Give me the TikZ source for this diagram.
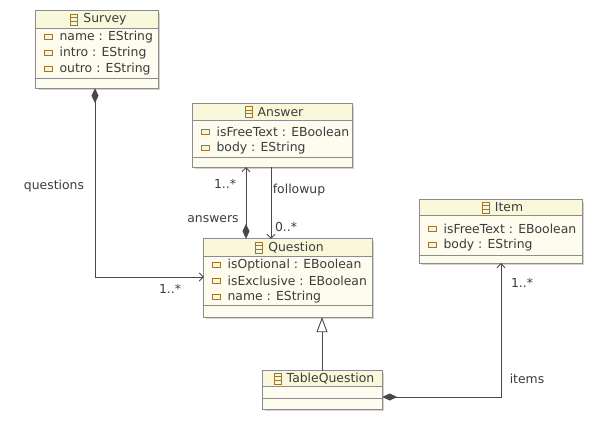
\documentclass[tikz,border=0pt]{standalone}
\usepackage{fontspec}
\setmainfont{DejaVu Sans}
\usetikzlibrary{positioning,fit,arrows.meta}

\definecolor{boxborder}{HTML}{8C8C8C}
\definecolor{headfill}{HTML}{FAF8DA}
\definecolor{bodyfill}{HTML}{FDFCEF}
\definecolor{iconbrown}{HTML}{9A7630}
\definecolor{iconfill}{HTML}{FBF3D6}
\definecolor{linegray}{HTML}{484848}
\definecolor{textgray}{HTML}{3C3C3C}
\definecolor{shadowgray}{HTML}{D2D2D2}

\tikzset{
  classbox/.style={fill=bodyfill, inner sep=0pt},
  titletext/.style={inner sep=0pt, text=textgray, font=\fontsize{12.4}{14}\selectfont},
  attrtext/.style={inner sep=0pt, anchor=west, text=textgray, font=\fontsize{12.4}{14}\selectfont},
  labeltext/.style={inner sep=0pt, text=textgray, font=\fontsize{12.4}{14}\selectfont},
  clsicon/.style={draw=iconbrown, minimum width=7, minimum height=11, inner sep=0pt, line width=0.8pt,
    path picture={
      \draw[iconbrown, line width=0.8pt] ([yshift=1.8pt]path picture bounding box.west) -- ([yshift=1.8pt]path picture bounding box.east)
        ([yshift=-1.8pt]path picture bounding box.west) -- ([yshift=-1.8pt]path picture bounding box.east);}},
  attricon/.style={draw=iconbrown, fill=iconfill, minimum width=8, minimum height=4.5, inner sep=0pt, line width=0.8pt},
  assoc/.style={draw=linegray, line width=0.9pt},
  barb/.tip={Straight Barb[length=4pt, width=8pt, line width=0.9pt]},
  comp/.tip={Diamond[length=15pt, width=7pt, fill=linegray]},
  gen/.tip={Triangle[open, length=15pt, width=11pt, fill=white, line width=0.9pt]}
}

% id, left, top, right, header bottom, attributes bottom, bottom, title
\newcommand{\umlclass}[8]{%
  \fill[shadowgray] ({#2+2},{#3+2}) rectangle ({#4+2},{#7+2});
  \node[classbox, fit={(#2,#3) (#4,#7)}] (#1) {};
  \fill[headfill] (#2,#3) rectangle (#4,#5);
  \draw[boxborder, line width=0.9pt] (#2,#5) -- (#4,#5) (#2,#6) -- (#4,#6);
  \draw[boxborder, line width=0.9pt] (#1.north west) rectangle (#1.south east);
  \node[titletext] (#1-title) at ({(#2+#4)/2+8},{(#3+#5)/2}) {#8};
  \node[clsicon, left=5pt of #1-title] (#1-icon) {};
}
% id, left, y, text
\newcommand{\umlattr}[4]{%
  \node[attricon] (#1-icon) at ({#2+12},#3) {};
  \node[attrtext, right=7pt of #1-icon] (#1) {#4};
}

\begin{document}
\begin{tikzpicture}[x=1pt, y=-1pt]
  \fill[white] (0,0) rectangle (594,424);
  \useasboundingbox (0,0) rectangle (594,424);

  % classes
  \umlclass{survey}{36}{11}{158}{28}{78}{88}{Survey}
  \umlattr{survey-name}{36}{37}{name : EString}
  \umlattr{survey-intro}{36}{53}{intro : EString}
  \umlattr{survey-outro}{36}{69}{outro : EString}

  \umlclass{answer}{193}{104}{352}{120}{157}{167}{Answer}
  \umlattr{answer-free}{193}{132}{isFreeText : EBoolean}
  \umlattr{answer-body}{193}{148}{body : EString}

  \umlclass{question}{204}{239}{372}{256}{305}{317}{Question}
  \umlattr{question-opt}{204}{265}{isOptional : EBoolean}
  \umlattr{question-excl}{204}{281}{isExclusive : EBoolean}
  \umlattr{question-name}{204}{297}{name : EString}

  \umlclass{item}{420}{200}{582}{215}{255}{263}{Item}
  \umlattr{item-free}{420}{229}{isFreeText : EBoolean}
  \umlattr{item-body}{420}{245}{body : EString}

  \umlclass{tq}{263}{371}{382}{386}{398}{409}{TableQuestion}

  % references
  \draw[assoc, {comp}-{barb}] (survey.south -| 95,0) |- (question.west |- 0,277);
  \draw[assoc, {comp}-{barb}] (question.north -| 246,0) -- (answer.south -| 246,0);
  \draw[assoc, -{barb}] (answer.south -| 271,0) -- (question.north -| 271,0);
  \draw[assoc, {comp}-{barb}] (tq.east |- 0,397) -| (item.south);
  \draw[assoc, -{gen}] (tq.north -| 322,0) -- (question.south -| 322,0);

  % labels
  \node[labeltext] (l-questions) at (54,186) {questions};
  \node[labeltext] (l-qmult) at (170,289) {1..*};
  \node[labeltext] (l-amult) at (225,184) {1..*};
  \node[labeltext] (l-answers) at (213,219) {answers};
  \node[labeltext] (l-followup) at (299,190) {followup};
  \node[labeltext] (l-fmult) at (286,227) {0..*};
  \node[labeltext] (l-items) at (527,379) {items};
  \node[labeltext] (l-imult) at (522,283) {1..*};
\end{tikzpicture}
\end{document}
